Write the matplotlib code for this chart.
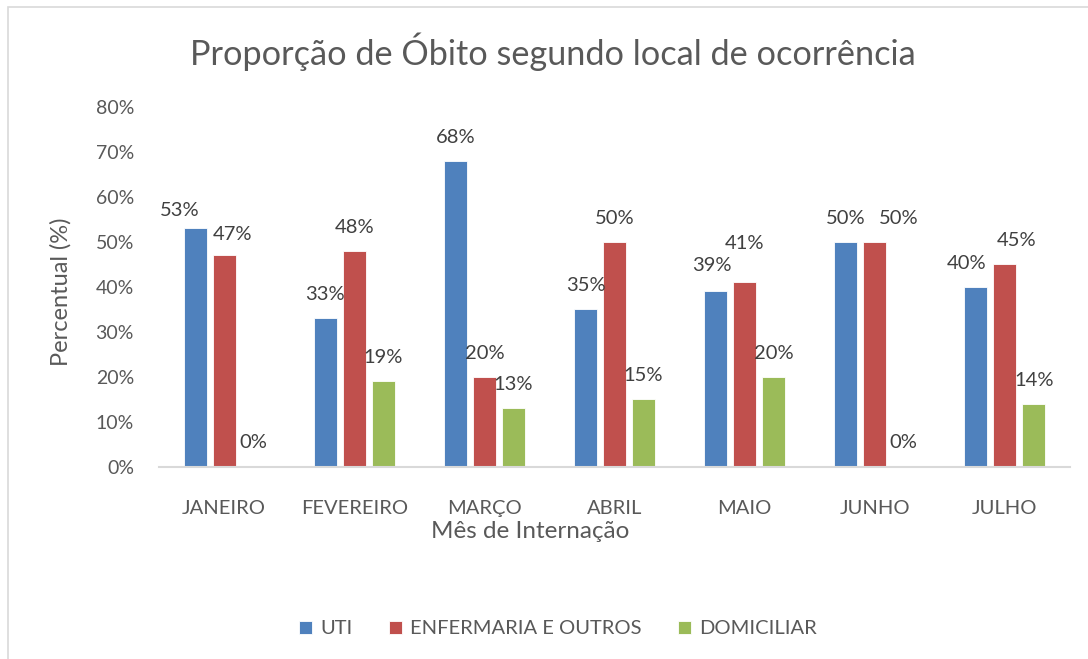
import numpy as np
import matplotlib.pyplot as plt
from matplotlib.patches import Rectangle

# Dados
meses = ['JANEIRO', 'FEVEREIRO', 'MARÇO', 'ABRIL', 'MAIO', 'JUNHO', 'JULHO']
uti = [53, 33, 68, 35, 39, 50, 40]
enfermaria = [47, 48, 20, 50, 41, 50, 45]
domiciliar = [0, 19, 13, 15, 20, 0, 14]
series_nomes = ['UTI', 'ENFERMARIA E OUTROS', 'DOMICILIAR']
yticks = [0, 10, 20, 30, 40, 50, 60, 70, 80]

cores = ['#4F81BD', '#C0504D', '#9BBB59']
txt = '#595959'
plt.rcParams['font.family'] = ['Lato', 'DejaVu Sans']

fig = plt.figure(figsize=(10.88, 6.59), dpi=100)
# moldura cinza do gráfico
fig.patches.append(Rectangle((8 / 1088, -0.1), 1.2, 1.1 - 7 / 659, transform=fig.transFigure,
                             fill=False, edgecolor='#d9d9d9', linewidth=1.2))

ax = fig.add_axes([159 / 1088, 1 - 466.5 / 659, 911 / 1088, 359.5 / 659])

x = np.arange(len(meses))
w = 0.177
passo = 0.223

# ajustes manuais das etiquetas (dx, dy em pixels) como no original
ajuste = {(0, 0): (-15, 6), (1, 0): (8, 3), (0, 4): (-4, -2), (1, 4): (0, -15),
          (1, 5): (24, 0), (0, 6): (-9, 0), (1, 6): (12, 0)}

for s, vals in enumerate([uti, enfermaria, domiciliar]):
    pos = x + (s - 1) * passo
    ax.bar(pos, vals, width=w, color=cores[s], edgecolor='white', linewidth=0.6,
           label=series_nomes[s], zorder=2)
    for i, v in enumerate(vals):
        dx, dy = ajuste.get((s, i), (0, 0))
        ax.annotate(f'{v}%', (pos[i], v), xytext=(dx * 0.72, (18 - dy) * 0.72),
                    textcoords='offset points', ha='center', va='baseline',
                    fontsize=14.5, color='#404040')

ax.set_xlim(-0.5, len(meses) - 0.5)
ax.set_ylim(0, 80)
ax.set_yticks(yticks)
ax.set_yticklabels([f'{t}%' for t in yticks])
ax.set_xticks(x)
ax.set_xticklabels(meses)
ax.tick_params(axis='both', length=0, colors=txt, labelsize=14)
ax.tick_params(axis='x', labelsize=14.5)
ax.tick_params(axis='y', pad=18)
ax.tick_params(axis='x', pad=24)
for sp in ['top', 'right', 'left']:
    ax.spines[sp].set_visible(False)
ax.spines['bottom'].set_color('#d9d9d9')
ax.spines['bottom'].set_linewidth(1.5)

ax.set_xlabel('Mês de Internação', fontsize=17.5, color=txt, va='top')
ax.xaxis.set_label_coords(0.4077, -0.152)
ax.set_ylabel('Percentual (%)', fontsize=17, color=txt, va='center')
ax.yaxis.set_label_coords(-0.1076, 0.485)

fig.text(553 / 1088, 1 - 52 / 659, 'Proporção de Óbito segundo local de ocorrência',
         ha='center', va='center', fontsize=24.7, color=txt)

fig.legend(loc='center', bbox_to_anchor=(558 / 1088, 1 - 629 / 659), ncol=3, frameon=False,
           fontsize=14.5, labelcolor=txt, handlelength=0.65, handleheight=0.65,
           handletextpad=0.4, columnspacing=1.8)

fig.savefig('out.png', dpi=100)
